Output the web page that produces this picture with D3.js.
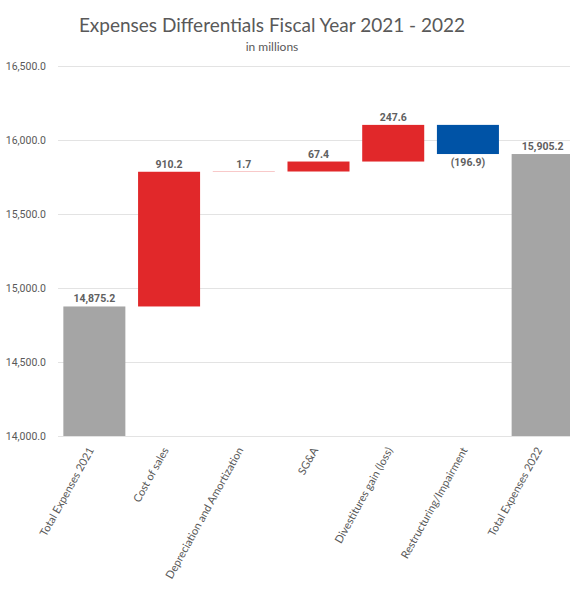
<!DOCTYPE html>
<html>
<head>
<meta charset="utf-8">
<script src="https://cdn.jsdelivr.net/npm/d3@7"></script>
<style>
  body { margin: 0; background: #fff; }
  svg { display: block; }
</style>
</head>
<body>
<svg width="570" height="590"></svg>
<script>
const categories = [
  "Total Expenses 2021",
  "Cost of sales",
  "Depreciation and Amortization",
  "SG&A",
  "Divestitures gain (loss)",
  "Restructuring/Impairment",
  "Total Expenses 2022"
];
const values = [14875.2, 910.2, 1.7, 67.4, 247.6, -196.9, 15905.2];
const isTotal = [true, false, false, false, false, false, true];
const yTicks = [14000, 14500, 15000, 15500, 16000, 16500];

const colors = { total: "#a5a5a5", up: "#e1282a", down: "#0053a6" };

// running totals for the waterfall
let running = 0;
const steps = categories.map((name, i) => {
  const v = values[i];
  let start, end;
  if (isTotal[i]) {
    start = yTicks[0];
    end = v;
    running = v;
  } else {
    start = running;
    end = running + v;
    running = end;
  }
  return { name, value: v, total: isTotal[i], start, end };
});

const svg = d3.select("svg");

const x = d3.scaleBand()
  .domain(categories)
  .range([57, 580])
  .paddingInner(0.17)
  .paddingOuter(0.085);

const y = d3.scaleLinear()
  .domain([yTicks[0], yTicks[yTicks.length - 1]])
  .range([436, 66]);

// title
svg.append("text")
  .attr("x", 272).attr("y", 32)
  .attr("text-anchor", "middle")
  .style("font-family", "Lato, 'Open Sans', sans-serif")
  .style("font-size", "19px")
  .style("fill", "#595959")
  .text("Expenses Differentials Fiscal Year 2021 - 2022");

svg.append("text")
  .attr("x", 272).attr("y", 51)
  .attr("text-anchor", "middle")
  .style("font-family", "Lato, 'Open Sans', sans-serif")
  .style("font-size", "12px")
  .style("fill", "#595959")
  .text("in millions");

// grid + y axis
const yAxis = svg.append("g")
  .attr("transform", "translate(58,0)")
  .call(d3.axisLeft(y).tickValues(yTicks).tickFormat(d3.format(",.1f")).tickSize(-520).tickPadding(12));

yAxis.select(".domain").remove();
yAxis.selectAll("line").attr("stroke", "#e3e3e3");
yAxis.selectAll("text")
  .style("font-family", "'Liberation Sans Narrow', 'Roboto', sans-serif")
  .style("font-size", "10.5px")
  .style("fill", "#595959");

// bars
svg.selectAll("rect.bar")
  .data(steps)
  .enter()
  .append("rect")
  .attr("class", "bar")
  .attr("x", d => x(d.name))
  .attr("width", x.bandwidth())
  .attr("y", d => y(Math.max(d.start, d.end)))
  .attr("height", d => Math.abs(y(d.start) - y(d.end)))
  .attr("fill", d => d.total ? colors.total : (d.value >= 0 ? colors.up : colors.down));

// value labels
const fmtTotal = d3.format(",.1f");
const fmtStep = d3.format(".1f");
svg.selectAll("text.val")
  .data(steps)
  .enter()
  .append("text")
  .attr("class", "val")
  .attr("x", d => x(d.name) + x.bandwidth() / 2)
  .attr("y", d => d.value >= 0 ? y(Math.max(d.start, d.end)) - 4 : y(Math.min(d.start, d.end)) + 12)
  .attr("text-anchor", "middle")
  .style("font-family", "'Liberation Sans Narrow', 'Roboto', sans-serif")
  .style("font-size", "10.5px")
  .style("font-weight", "bold")
  .style("fill", "#606060")
  .text(d => d.total ? fmtTotal(d.value) : (d.value < 0 ? "(" + fmtStep(-d.value) + ")" : fmtStep(d.value)));

// x axis labels
const xAxis = svg.append("g")
  .attr("transform", "translate(0,438)")
  .call(d3.axisBottom(x).tickSize(0).tickPadding(0));

xAxis.select(".domain").remove();
xAxis.selectAll("text")
  .attr("text-anchor", "end")
  .attr("dy", 0)
  .attr("transform", "translate(0,12) rotate(-61)")
  .style("font-family", "Lato, 'Open Sans', sans-serif")
  .style("font-size", "11px")
  .style("fill", "#595959");
</script>
</body>
</html>
